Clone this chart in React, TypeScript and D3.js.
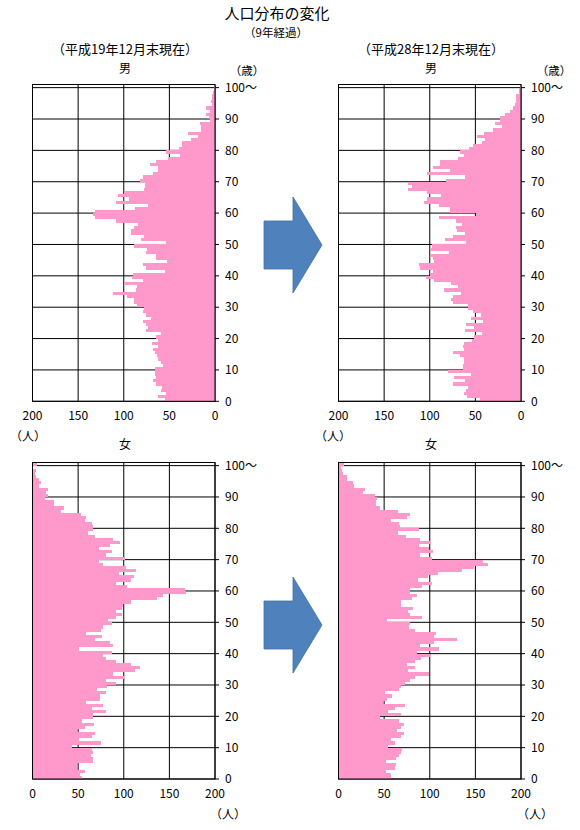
import React from 'react';
import * as d3 from 'd3';

// ---- data ----
const ages: number[] = d3.range(0, 101);
const ageTicks = [0, 10, 20, 30, 40, 50, 60, 70, 80, 90, 100];
const ageTickLabels = ['0', '10', '20', '30', '40', '50', '60', '70', '80', '90', '100～'];
const valueTicks = [0, 50, 100, 150, 200];

// values by age 0..100
const maleH19 = [55, 62, 54, 59, 58, 65, 68, 65, 66, 66, 66, 57, 59, 62, 64, 66, 68, 62, 69, 62,
  65, 59, 76, 73, 76, 79, 70, 76, 79, 78, 85, 89, 89, 96, 112, 87, 86, 100, 79, 91,
  90, 55, 76, 79, 53, 65, 65, 76, 74, 89, 54, 81, 78, 92, 92, 89, 84, 108, 131, 134,
  132, 88, 73, 108, 94, 106, 100, 78, 77, 77, 82, 79, 68, 62, 62, 71, 65, 51, 38, 54,
  40, 36, 36, 26, 19, 30, 15, 15, 16, 6, 7, 10, 5, 10, 3, 4, 3, 3, 2, 1, 1];
const maleH28 = [45, 59, 63, 60, 58, 75, 61, 73, 55, 80, 64, 64, 62, 62, 67, 75, 63, 64, 62, 54,
  52, 43, 61, 51, 60, 42, 55, 44, 53, 58, 58, 74, 77, 75, 66, 84, 69, 77, 95, 104,
  100, 96, 111, 112, 95, 96, 100, 79, 99, 97, 60, 83, 75, 61, 70, 71, 65, 71, 90, 49,
  78, 78, 90, 106, 103, 88, 103, 124, 119, 124, 82, 61, 103, 78, 96, 89, 89, 69, 63, 67,
  57, 53, 43, 39, 48, 41, 31, 21, 28, 23, 23, 17, 12, 9, 7, 6, 5, 5, 2, 2, 1];
const femaleH19 = [54, 52, 58, 49, 49, 66, 66, 64, 66, 65, 43, 75, 51, 65, 69, 49, 58, 67, 54, 66,
  66, 80, 65, 77, 59, 74, 74, 81, 71, 82, 91, 80, 100, 88, 112, 118, 108, 92, 81, 77,
  87, 51, 88, 85, 69, 76, 59, 75, 77, 87, 83, 91, 98, 91, 98, 99, 108, 136, 143, 168,
  167, 104, 91, 108, 111, 95, 113, 102, 77, 73, 101, 80, 87, 73, 85, 96, 88, 68, 61, 66,
  66, 65, 57, 59, 53, 31, 35, 24, 24, 14, 17, 15, 17, 7, 9, 7, 4, 3, 4, 1, 5];
const femaleH28 = [58, 57, 52, 62, 63, 52, 63, 66, 68, 70, 54, 62, 57, 68, 72, 64, 69, 72, 66, 46,
  68, 54, 62, 73, 49, 53, 59, 51, 66, 69, 73, 78, 84, 99, 76, 84, 75, 84, 90, 100,
  86, 110, 89, 105, 130, 105, 107, 84, 77, 78, 53, 91, 78, 76, 82, 68, 69, 80, 86, 78,
  78, 92, 102, 87, 98, 109, 135, 149, 164, 158, 103, 89, 104, 99, 88, 101, 89, 74, 65, 88,
  67, 66, 57, 75, 78, 65, 46, 41, 41, 42, 40, 27, 29, 17, 16, 9, 9, 5, 4, 3, 6];

const FONT = '"Noto Sans CJK JP", "Noto Sans", sans-serif';
const PINK = '#FF99CC';

type PanelProps = {
  values: number[];
  left: number;
  right: number;
  top: number;
  bottom: number;
  reversed: boolean;
};

function Panel({ values, left, right, top, bottom, reversed }: PanelProps) {
  const x = d3.scaleLinear().domain([0, 200]).range(reversed ? [right, left] : [left, right]);
  const y = d3.scaleBand<number>().domain(ages).range([bottom, top]).padding(0);
  const lineY = (a: number) => (y(a) as number) + y.bandwidth();
  const labelY = bottom + 19;
  return (
    <g>
      {valueTicks.map((v) => (
        <line key={'vx' + v} x1={x(v)} x2={x(v)} y1={top} y2={bottom} stroke="#000" strokeWidth={1} />
      ))}
      {ageTicks.map((a) => (
        <line key={'hy' + a} x1={left} x2={right + 4} y1={lineY(a)} y2={lineY(a)} stroke="#000" strokeWidth={1} />
      ))}
      {ages.map((a, i) => {
        const v = values[i];
        const x0 = x(0);
        const x1 = x(v);
        return (
          <rect
            key={'b' + a}
            x={Math.min(x0, x1)}
            y={y(a) as number}
            width={Math.abs(x1 - x0)}
            height={y.bandwidth()}
            fill={PINK}
            shapeRendering="crispEdges"
          />
        );
      })}
      <rect x={left} y={top} width={right - left} height={bottom - top} fill="none" stroke="#000" strokeWidth={1} />
      {ageTicks.map((a, i) => (
        <text key={'al' + a} x={right + 10} y={lineY(a)} dy="0.35em" fontSize={12} fontFamily={FONT} textAnchor="start">
          {ageTickLabels[i]}
        </text>
      ))}
      {valueTicks.map((v) => (
        <text key={'vl' + v} x={x(v)} y={labelY} fontSize={12} fontFamily={FONT} textAnchor="middle">
          {v}
        </text>
      ))}
    </g>
  );
}

function Arrow({ dy }: { dy: number }) {
  const pts = [
    [264, 221], [293, 221], [293, 197], [322, 245], [293, 293], [293, 269], [264, 269],
  ].map(([px, py]) => `${px},${py + dy}`).join(' ');
  return <polygon points={pts} fill="#4F81BD" stroke="#41719C" strokeWidth={0.8} />;
}

export default function App() {
  const L = { left: 32.5, right: 215 };
  const R = { left: 338.5, right: 521 };
  const T = { top: 84.5, bottom: 401.3 };
  const B = { top: 462.5, bottom: 779 };
  const txt = (x: number, y: number, s: string, size = 12) => (
    <text x={x} y={y} dy="0.35em" fontSize={size} fontFamily={FONT} textAnchor="middle">{s}</text>
  );
  return (
    <svg width={580} height={830} style={{ position: 'absolute', left: 0, top: 0, background: '#fff' }}>
      <rect x={0} y={0} width={580} height={830} fill="#fff" />
      {txt(277, 13.5, '人口分布の変化', 15)}
      {txt(276, 32.5, '（9年経過）', 11.5)}
      {txt(125, 49, '（平成19年12月末現在）', 13)}
      {txt(431, 49, '（平成28年12月末現在）', 13)}
      {txt(125, 69, '男', 12)}
      {txt(431, 69, '男', 12)}
      {txt(247, 71, '（歳）', 11.5)}
      {txt(554, 71, '（歳）', 11.5)}
      {txt(28, 437, '（人）', 12)}
      {txt(333, 437, '（人）', 12)}
      {txt(125, 445, '女', 12)}
      {txt(431, 445, '女', 12)}
      {txt(228, 815, '（人）', 12)}
      {txt(535, 815, '（人）', 12)}

      <Panel values={maleH19} left={L.left} right={L.right} top={T.top} bottom={T.bottom} reversed={true} />
      <Panel values={maleH28} left={R.left} right={R.right} top={T.top} bottom={T.bottom} reversed={true} />
      <Panel values={femaleH19} left={L.left} right={L.right} top={B.top} bottom={B.bottom} reversed={false} />
      <Panel values={femaleH28} left={R.left} right={R.right} top={B.top} bottom={B.bottom} reversed={false} />

      <Arrow dy={0} />
      <Arrow dy={380} />
    </svg>
  );
}
